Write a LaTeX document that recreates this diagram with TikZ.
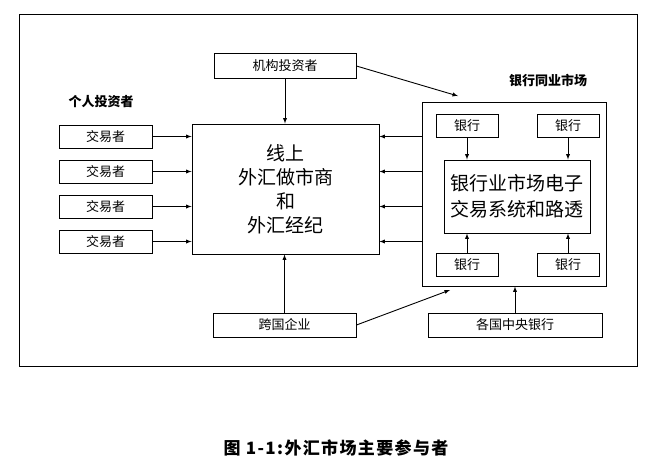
\documentclass[tikz,border=0pt]{standalone}
\usepackage{fontspec}
\setmainfont{Noto Sans CJK SC}

\begin{document}
\begin{tikzpicture}[x=1pt, y=-1pt, >=latex,
    box/.style={rectangle, draw=black, line width=0.9pt, fill=white, inner sep=0pt},
    smalltext/.style={font=\fontsize{13}{15}\selectfont},
    bigtext/.style={font=\fontsize{19}{24}\selectfont, align=center},
    label/.style={font=\fontsize{13}{15}\selectfont\bfseries},
    conn/.style={->, line width=0.9pt}]

        \useasboundingbox (0,0) rectangle (655,464);

        % outer frame
        \node[draw=black, line width=1pt, minimum width=618pt, minimum height=352pt, inner sep=0pt] (frame) at (328,190) {};

        \node[label] (lindiv) at (101,102) {个人投资者};
        \node[label] (linter) at (548,80) {银行同业市场};

        \node[box, smalltext, minimum width=142pt, minimum height=25pt] (inst) at (285,66) {机构投资者};

        \node[box, smalltext, minimum width=93pt, minimum height=23pt] (t1) at (105.5,136.5) {交易者};
        \node[box, smalltext, minimum width=93pt, minimum height=23pt] (t2) at (105.5,171.5) {交易者};
        \node[box, smalltext, minimum width=93pt, minimum height=23pt] (t3) at (105.5,206.5) {交易者};
        \node[box, smalltext, minimum width=93pt, minimum height=23pt] (t4) at (105.5,241.5) {交易者};

        \node[box, bigtext, minimum width=187pt, minimum height=130pt] (mm) at (285.5,189) {线上\\外汇做市商\\和\\外汇经纪};

        \node[box, minimum width=184pt, minimum height=184pt] (ib) at (514.5,194) {};

        \node[box, smalltext, minimum width=62pt, minimum height=23pt] (b1) at (467,125.5) {银行};
        \node[box, smalltext, minimum width=62pt, minimum height=23pt] (b2) at (568,125.5) {银行};
        \node[box, smalltext, minimum width=62pt, minimum height=23pt] (b3) at (467,264.5) {银行};
        \node[box, smalltext, minimum width=62pt, minimum height=23pt] (b4) at (568,264.5) {银行};

        \node[box, bigtext, font=\fontsize{19}{26}\selectfont, minimum width=146pt, minimum height=73pt] (ebs) at (517,196.5) {银行业市场电子\\交易系统和路透};

        \node[box, smalltext, minimum width=143pt, minimum height=24pt] (corp) at (284.5,325) {跨国企业};
        \node[box, smalltext, minimum width=174pt, minimum height=24pt] (cb) at (515,325) {各国中央银行};

        \node[font=\fontsize{17}{19}\selectfont\bfseries\addfontfeature{LetterSpace=8}] (cap) at (336,448) {图 1-1:外汇市场主要参与者};

        \coordinate (inTop) at (458,96);
        \coordinate (inBot) at (450,290);

        \draw[conn] (t1) -- (t1 -| mm.west);
        \draw[conn] (t2) -- (t2 -| mm.west);
        \draw[conn] (t3) -- (t3 -| mm.west);
        \draw[conn] (t4) -- (t4 -| mm.west);

        \draw[conn] (t1 -| ib.west) -- (t1 -| mm.east);
        \draw[conn] (t2 -| ib.west) -- (t2 -| mm.east);
        \draw[conn] (t3 -| ib.west) -- (t3 -| mm.east);
        \draw[conn] (t4 -| ib.west) -- (t4 -| mm.east);

        \draw[conn] (inst.south) -- (inst.south |- mm.north);
        \draw[conn] (inst.east) -- (inTop);

        \draw[conn] (corp.north) -- (corp.north |- mm.south);
        \draw[conn] (corp.east) -- (inBot);

        \draw[conn] (cb.north) -- (cb.north |- ib.south);

        \draw[conn] (b1.south) -- (b1.south |- ebs.north);
        \draw[conn] (b2.south) -- (b2.south |- ebs.north);
        \draw[conn] (b3.north) -- (b3.north |- ebs.south);
        \draw[conn] (b4.north) -- (b4.north |- ebs.south);

    \end{tikzpicture}
\end{document}
